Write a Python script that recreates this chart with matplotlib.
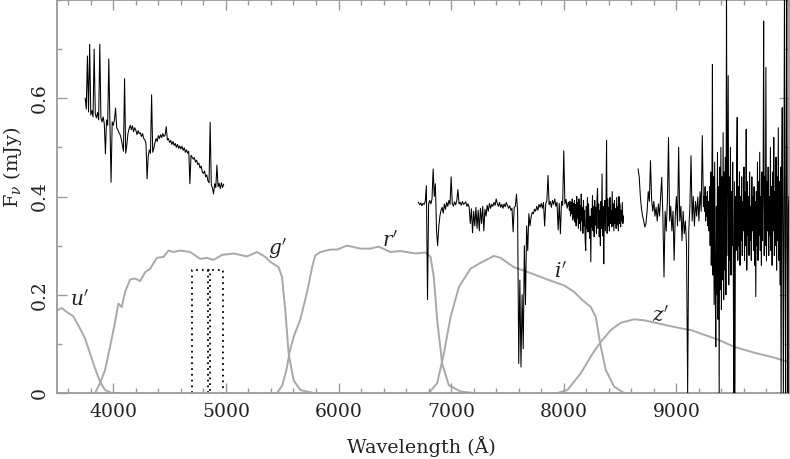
import numpy as np
import matplotlib
matplotlib.use('Agg')
import matplotlib.pyplot as plt
from matplotlib.ticker import MultipleLocator

# Filter transmission curves (scaled)
u_wave = [3500, 3542, 3586, 3645, 3705, 3749, 3793, 3838, 3882, 3927, 3986, 4050]
u_trans = [0.168, 0.173, 0.165, 0.156, 0.131, 0.111, 0.081, 0.050, 0.023, 0.006, 0.000, 0.000]

g_wave = [3838, 3882, 3927, 3971, 4016, 4045, 4075, 4105, 4149, 4194, 4238, 4283, 4327,
          4387, 4446, 4490, 4534, 4594, 4683, 4772, 4831, 4890, 4964, 5068, 5187, 5276,
          5350, 5394, 5468, 5498, 5527, 5557, 5601, 5661, 5780]
g_trans = [0.000, 0.020, 0.047, 0.094, 0.145, 0.182, 0.175, 0.206, 0.231, 0.233, 0.228, 0.246, 0.253,
           0.275, 0.277, 0.290, 0.287, 0.290, 0.287, 0.273, 0.275, 0.271, 0.281, 0.284, 0.278, 0.287,
           0.277, 0.267, 0.256, 0.236, 0.169, 0.080, 0.026, 0.006, 0.000]

r_wave = [5453, 5500, 5540, 5566, 5601, 5661, 5720, 5765, 5794, 5839, 5928, 5987, 6076, 6194,
          6283, 6357, 6461, 6550, 6683, 6772, 6817, 6846, 6876, 6920, 6979, 7084, 7200]
r_trans = [0.000, 0.015, 0.050, 0.084, 0.114, 0.150, 0.205, 0.256, 0.280, 0.287, 0.292, 0.292, 0.300, 0.294,
           0.294, 0.298, 0.287, 0.289, 0.284, 0.286, 0.277, 0.236, 0.148, 0.060, 0.016, 0.003, 0.000]

i_wave = [6802, 6876, 6935, 6995, 7069, 7172, 7261, 7380, 7439, 7557, 7662, 7855, 8003, 8091,
          8166, 8240, 8284, 8329, 8373, 8447, 8536]
i_trans = [0.000, 0.020, 0.080, 0.155, 0.216, 0.253, 0.265, 0.279, 0.275, 0.256, 0.248, 0.231, 0.219, 0.206,
           0.189, 0.175, 0.155, 0.094, 0.047, 0.013, 0.000]

z_wave = [7943, 8032, 8151, 8255, 8328, 8417, 8506, 8625, 8714, 8832, 9010, 9129, 9366, 9514,
          9692, 9870, 10012]
z_trans = [0.000, 0.006, 0.040, 0.080, 0.104, 0.128, 0.143, 0.150, 0.148, 0.142, 0.133, 0.128, 0.109, 0.094,
           0.082, 0.072, 0.062]

filter_names = ["$u'$", "$g'$", "$r'$", "$i'$", "$z'$"]
label_wave = [3705, 5456, 6461, 7973, 8862]
label_flux = [0.189, 0.293, 0.309, 0.246, 0.156]

# Dotted boxes (wavelength ranges)
box_left = [4700, 4840]
box_right = [4860, 4975]
box_top = 0.25

# Spectrum, blue arm: from 3750 A in 10 A steps
blue_start, blue_step = 3750, 10
blue_flux = [
    0.600, 0.578, 0.686, 0.572, 0.710, 0.566, 0.575, 0.562, 0.700, 0.568,
    0.560, 0.571, 0.556, 0.710, 0.560, 0.552, 0.562, 0.548, 0.487, 0.556,
    0.545, 0.680, 0.548, 0.429, 0.552, 0.545, 0.556, 0.580, 0.540, 0.536,
    0.530, 0.526, 0.518, 0.505, 0.492, 0.640, 0.488, 0.505, 0.528, 0.538,
    0.545, 0.536, 0.544, 0.532, 0.540, 0.535, 0.526, 0.534, 0.528, 0.530,
    0.522, 0.528, 0.518, 0.515, 0.508, 0.436, 0.482, 0.495, 0.488, 0.607,
    0.490, 0.498, 0.510, 0.518, 0.512, 0.524, 0.518, 0.526, 0.520, 0.528,
    0.522, 0.525, 0.542, 0.515, 0.518, 0.510, 0.514, 0.506, 0.512, 0.504,
    0.508, 0.500, 0.506, 0.498, 0.503, 0.497, 0.502, 0.494, 0.499, 0.490,
    0.495, 0.488, 0.492, 0.426, 0.484, 0.480, 0.476, 0.479, 0.470, 0.474,
    0.465, 0.468, 0.458, 0.462, 0.450, 0.447, 0.452, 0.440, 0.444, 0.432,
    0.428, 0.551, 0.424, 0.418, 0.405, 0.426, 0.418, 0.464, 0.420, 0.427,
    0.416, 0.428, 0.418, 0.425]

# Spectrum, red arm: from 6710 A in 10 A steps up to 8040 A
red_start, red_step = 6710, 10
red_flux = [
    0.388, 0.383, 0.387, 0.381, 0.386, 0.384, 0.390, 0.422, 0.190, 0.386,
    0.392, 0.385, 0.395, 0.456, 0.400, 0.426, 0.330, 0.300, 0.338, 0.360,
    0.372, 0.378, 0.366, 0.385, 0.374, 0.388, 0.380, 0.392, 0.384, 0.440,
    0.386, 0.380, 0.389, 0.383, 0.392, 0.414, 0.385, 0.388, 0.382, 0.390,
    0.384, 0.386, 0.389, 0.380, 0.385, 0.378, 0.345, 0.375, 0.326, 0.370,
    0.340, 0.378, 0.335, 0.372, 0.330, 0.376, 0.345, 0.380, 0.330, 0.374,
    0.360, 0.382, 0.370, 0.386, 0.376, 0.384, 0.380, 0.388, 0.382, 0.395,
    0.386, 0.380, 0.388, 0.378, 0.384, 0.376, 0.385, 0.379, 0.388, 0.382,
    0.376, 0.381, 0.372, 0.376, 0.328, 0.378, 0.380, 0.405, 0.370, 0.060,
    0.230, 0.053, 0.200, 0.090, 0.300, 0.180, 0.340, 0.290, 0.365, 0.340,
    0.358, 0.368, 0.365, 0.374, 0.370, 0.380, 0.372, 0.384, 0.378, 0.386,
    0.376, 0.388, 0.340, 0.385, 0.392, 0.443, 0.383, 0.390, 0.378, 0.392,
    0.384, 0.395, 0.380, 0.388, 0.332, 0.386, 0.324, 0.390, 0.382, 0.493,
    0.385, 0.394, 0.376, 0.388]

# red arm tail: from 8045 A in 5 A steps
red_tail_start, red_tail_step = 8045, 5
red_tail_flux = [
    0.385, 0.372, 0.390, 0.360, 0.388, 0.365, 0.395, 0.352, 0.386, 0.358,
    0.392, 0.348, 0.384, 0.340, 0.400, 0.355, 0.388, 0.335, 0.395, 0.345,
    0.382, 0.330, 0.405, 0.350, 0.378, 0.325, 0.392, 0.340, 0.372, 0.310,
    0.290, 0.380, 0.335, 0.398, 0.328, 0.385, 0.345, 0.315, 0.360, 0.267,
    0.375, 0.338, 0.402, 0.330, 0.380, 0.318, 0.392, 0.342, 0.378, 0.325,
    0.395, 0.416, 0.335, 0.385, 0.318, 0.372, 0.300, 0.390, 0.335, 0.446,
    0.320, 0.380, 0.263, 0.360, 0.392, 0.330, 0.385, 0.514, 0.325, 0.395,
    0.340, 0.378, 0.330, 0.398, 0.345, 0.372, 0.338, 0.410, 0.340, 0.385,
    0.330, 0.392, 0.345, 0.375, 0.335, 0.398, 0.342, 0.380, 0.330, 0.400,
    0.345, 0.385, 0.338, 0.372, 0.350, 0.388, 0.345, 0.360]

# Spectrum, far red: from 8660 A in 10 A steps up to 9240 A
far_start, far_step = 8660, 10
far_flux = [
    0.456, 0.440, 0.400, 0.375, 0.360, 0.350, 0.338, 0.345, 0.370, 0.410,
    0.390, 0.473, 0.395, 0.370, 0.390, 0.360, 0.378, 0.350, 0.385, 0.360,
    0.400, 0.439, 0.360, 0.236, 0.370, 0.330, 0.390, 0.520, 0.350, 0.380,
    0.330, 0.370, 0.270, 0.360, 0.400, 0.340, 0.500, 0.350, 0.380, 0.310,
    0.370, 0.324, 0.350, 0.300, 0.000, 0.330, 0.380, 0.483, 0.350, 0.400,
    0.340, 0.390, 0.360, 0.399, 0.350, 0.410, 0.370, 0.524, 0.380]

# far red tail: from 9245 A in 5 A steps
far_tail_start, far_tail_step = 9245, 5
far_tail_flux = [
    0.400, 0.370, 0.420, 0.350, 0.400, 0.360, 0.410, 0.340, 0.390, 0.330,
    0.420, 0.300, 0.450, 0.260, 0.400, 0.669, 0.240, 0.440, 0.180, 0.470,
    0.220, 0.094, 0.380, 0.200, 0.490, 0.150, 0.420, 0.000, 0.460, 0.210,
    0.500, 0.170, 0.440, 0.230, 0.530, 0.190, 0.450, 0.250, 0.480, 0.200,
    0.850, 0.280, 0.460, 0.646, 0.220, 0.440, 0.270, 0.500, 0.240, 0.410,
    0.300, 0.470, 0.260, 0.000, 0.430, 0.000, 0.400, 0.290, 0.460, 0.561,
    0.270, 0.420, 0.300, 0.450, 0.260, 0.400, 0.310, 0.440, 0.280, 0.390,
    0.330, 0.460, 0.270, 0.410, 0.300, 0.537, 0.250, 0.430, 0.320, 0.400,
    0.280, 0.450, 0.310, 0.380, 0.270, 0.440, 0.330, 0.400, 0.290, 0.420,
    0.260, 0.390, 0.196, 0.410, 0.300, 0.470, 0.270, 0.430, 0.320, 0.490,
    0.290, 0.400, 0.260, 0.450, 0.310, 0.420, 0.757, 0.280, 0.440, 0.300,
    0.663, 0.270, 0.430, 0.330, 0.460, 0.280, 0.400, 0.320, 0.500, 0.290,
    0.420, 0.260, 0.450, 0.330, 0.520, 0.280, 0.410, 0.300, 0.480, 0.250,
    0.440, 0.310, 0.540, 0.270, 0.430, 0.220, 0.460, 0.000, 0.450, 0.581,
    0.300, 0.000, 0.400, 0.850, 0.330, 0.000, 0.420, 0.850, 0.300, 0.000,
    0.380, 0.400]

plt.rcParams['font.family'] = 'DejaVu Serif'
plt.rcParams['mathtext.fontset'] = 'dejavuserif'

fig = plt.figure(figsize=(7.9, 4.59), dpi=100)
ax = fig.add_axes([57 / 790, 66 / 459, 732 / 790, 393 / 459])

grey = '#a8a8a8'
axis_grey = '#9a9a9a'

# filter curves
for w, t in [(u_wave, u_trans), (g_wave, g_trans), (r_wave, r_trans),
             (i_wave, i_trans), (z_wave, z_trans)]:
    ax.plot(w, t, color=grey, lw=1.4, zorder=1)

for name, xw, yf in zip(filter_names, label_wave, label_flux):
    ax.text(xw, yf, name, fontsize=14.5, ha='center', va='center', color='#222222')

# dotted boxes
for x0, x1 in zip(box_left, box_right):
    ax.plot([x0, x0, x1, x1], [0, box_top, box_top, 0], color='black',
            ls=(0, (1, 2.2)), lw=1.3, zorder=2)

# spectrum, three pieces
pieces = [
    [(blue_start, blue_step, blue_flux)],
    [(red_start, red_step, red_flux), (red_tail_start, red_tail_step, red_tail_flux)],
    [(far_start, far_step, far_flux), (far_tail_start, far_tail_step, far_tail_flux)],
]
for piece in pieces:
    wave = np.concatenate([s + st * np.arange(len(f)) for s, st, f in piece])
    flux = np.concatenate([f for s, st, f in piece])
    ax.plot(wave, flux, color='black', lw=0.75, zorder=3)

ax.set_xlim(3500, 10000)
ax.set_ylim(0, 0.8)

ax.xaxis.set_minor_locator(MultipleLocator(200))
ax.yaxis.set_minor_locator(MultipleLocator(0.1))
ax.set_xticks([4000, 5000, 6000, 7000, 8000, 9000])
ax.set_yticks([0, 0.2, 0.4, 0.6])
ax.set_yticklabels(['0', '0.2', '0.4', '0.6'])

ax.tick_params(which='both', direction='in', top=True, right=True,
               color=axis_grey, width=1.0, labelcolor='#222222', labelsize=13.5)
ax.tick_params(which='major', length=7.5)
ax.tick_params(which='minor', length=3.6)
ax.tick_params(axis='x', pad=7)
ax.tick_params(axis='y', pad=6, labelrotation=90)
for lab in ax.get_yticklabels():
    lab.set_va('center')

for sp in ax.spines.values():
    sp.set_color(axis_grey)
    sp.set_linewidth(1.3)

fig.text(421.5 / 790, 1 - 447 / 459, 'Wavelength (Å)', ha='center', va='center',
         fontsize=13.8, color='#222222')
fig.text(12 / 790, 1 - 167 / 459, r'F$_\nu$ (mJy)', ha='center', va='center',
         rotation=90, fontsize=14, color='#222222')

fig.savefig('out.png', dpi=100)
